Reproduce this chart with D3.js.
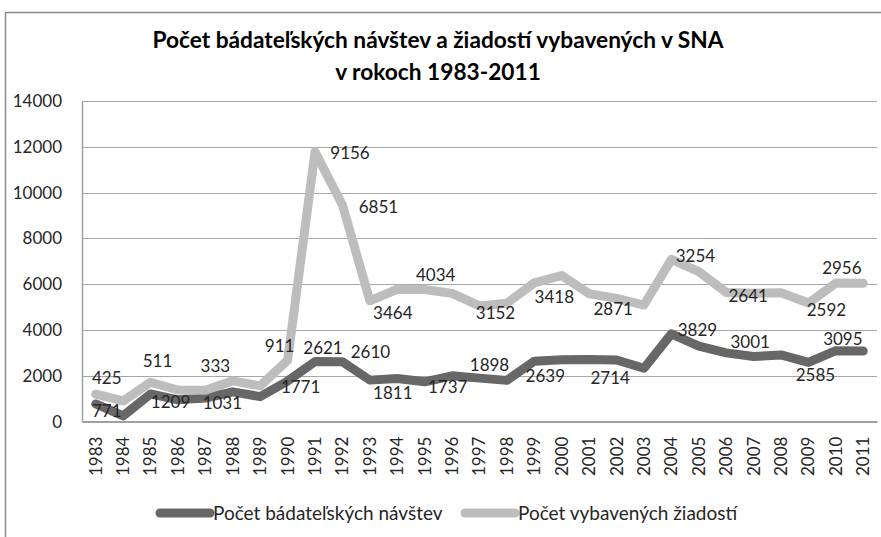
<!DOCTYPE html>
<html>
<head>
<meta charset="utf-8">
<script src="https://cdn.jsdelivr.net/npm/d3@7"></script>
<style>
    body { margin: 0; background: #fff; }
    svg { display: block; }
    text { font-family: Lato, sans-serif; fill: #262626; }
</style>
</head>
<body>
<div class="container"></div>
<script>
// data (stacked line chart, values per year)
const years = [1983, 1984, 1985, 1986, 1987, 1988, 1989, 1990, 1991, 1992, 1993, 1994, 1995, 1996, 1997,
    1998, 1999, 2000, 2001, 2002, 2003, 2004, 2005, 2006, 2007, 2008, 2009, 2010, 2011];
const visits = [771, 250, 1209, 950, 1031, 1300, 1090, 1771, 2621, 2610, 1811, 1880, 1737, 2000, 1898,
    1800, 2639, 2700, 2714, 2690, 2330, 3829, 3300, 3001, 2840, 2910, 2585, 3095, 3080];
const requests = [425, 650, 511, 430, 333, 480, 470, 911, 9156, 6851, 3464, 3900, 4034, 3600, 3152,
    3370, 3418, 3680, 2871, 2690, 2760, 3254, 3250, 2641, 2770, 2720, 2592, 2956, 2960];
const labelYears = [1983, 1985, 1987, 1990, 1991, 1992, 1993, 1995, 1997, 1999, 2001, 2004, 2006, 2009, 2010];
const yTicks = [0, 2000, 4000, 6000, 8000, 10000, 12000, 14000];
const seriesKeys = ["visits", "requests"];
const seriesNames = ["Počet bádateľských návštev", "Počet vybavených žiadostí"];
const titleLines = ["Počet bádateľských návštev a žiadostí vybavených v SNA", "v rokoch 1983-2011"];

var chart_utility = {
    config: {
        width: 881,
        height: 537,
        plot: { left: 82, right: 877, top: 101, bottom: 421.6 },
        colors: ["#676767", "#bdbdbd"],
        lineWidth: 9,
        fontSize: 17
    },

    // where Excel put each data label, relative to its point (dx, dy)
    labelOffsets: {
        visits: [[11, 7], [20, 8], [17, 5], [13, 6], [8, -14], [28, -10], [23, 13], [23, 5], [10, -13],
            [11, 15], [21, 19], [26, -4], [24, -11], [7, 13], [7, -12]],
        requests: [[11, -16], [7, -21], [10, -24], [-8, -14], [35, 1], [36, 2], [23, 12], [11, -14], [16, 7],
            [20, 14], [24, 15], [24, -3], [22, 4], [18, 7], [6, -15]]
    },

    x: d3.scaleBand(),
    y: d3.scaleLinear()
};

const cfg = chart_utility.config;
const p = cfg.plot;

const table = years.map((year, i) => ({ year: year, visits: visits[i], requests: requests[i] }));
const stacked = d3.stack().keys(seriesKeys)(table);

const x = chart_utility.x.domain(years).range([p.left, p.right]);
const y = chart_utility.y.domain([0, 14000]).range([p.bottom, p.top]);
const cx = (year) => x(year) + x.bandwidth() / 2;

const svg = d3.select(".container")
    .append("svg")
    .attr("width", cfg.width)
    .attr("height", cfg.height);

// chart frame
svg.append("rect")
    .attr("x", 5.5).attr("y", 12.5)
    .attr("width", 900).attr("height", 600)
    .attr("fill", "none")
    .attr("stroke", "#8a8a8a")
    .attr("stroke-width", 1.5);

// title
svg.append("text")
    .attr("x", 438).attr("y", 48)
    .attr("text-anchor", "middle")
    .style("font-weight", "bold")
    .style("font-size", "22.7px")
    .style("fill", "#000")
    .selectAll("tspan")
    .data(titleLines)
    .join("tspan")
    .attr("x", 438)
    .attr("dy", (d, i) => i === 0 ? 0 : 32)
    .text((d) => d);

// gridlines
svg.append("g")
    .selectAll("line")
    .data(yTicks.slice(1))
    .join("line")
    .attr("x1", p.left).attr("x2", p.right)
    .attr("y1", (d) => Math.round(y(d)) + 0.5)
    .attr("y2", (d) => Math.round(y(d)) + 0.5)
    .attr("stroke", "#a8a8a8")
    .attr("stroke-width", 1);

// y axis
const yAxis = svg.append("g")
    .attr("transform", `translate(${p.left},0)`)
    .call(d3.axisLeft(y).tickValues(yTicks).tickSize(0).tickPadding(20).tickFormat(d3.format("d")));
yAxis.select(".domain").attr("stroke", "#a0a0a0").attr("stroke-width", 1.5);
yAxis.selectAll("text").style("font-size", cfg.fontSize + "px").style("font-family", "Lato, sans-serif");

// x axis
const xAxis = svg.append("g")
    .attr("transform", `translate(0,${p.bottom})`)
    .call(d3.axisBottom(x).tickSize(0).tickPadding(0));
xAxis.select(".domain").attr("stroke", "#a0a0a0").attr("stroke-width", 2);
xAxis.selectAll("text")
    .style("font-size", cfg.fontSize + "px")
    .style("font-family", "Lato, sans-serif")
    .attr("text-anchor", "end")
    .attr("transform", "translate(0,15) rotate(-90)")
    .attr("x", 0).attr("y", 0).attr("dy", "0.35em");

// stacked lines
const line = d3.line()
    .x((d) => cx(d.data.year))
    .y((d) => y(d[1]));

svg.append("g")
    .selectAll("path")
    .data(stacked)
    .join("path")
    .attr("d", line)
    .attr("fill", "none")
    .attr("stroke", (d, i) => cfg.colors[i])
    .attr("stroke-width", cfg.lineWidth)
    .attr("stroke-linejoin", "round")
    .attr("stroke-linecap", "round");

// data labels
stacked.forEach((layer, s) => {
    const key = seriesKeys[s];
    svg.append("g")
        .selectAll("text")
        .data(labelYears)
        .join("text")
        .attr("x", (year, i) => cx(year) + chart_utility.labelOffsets[key][i][0])
        .attr("y", (year, i) => y(layer[years.indexOf(year)][1]) + chart_utility.labelOffsets[key][i][1])
        .attr("dy", "0.35em")
        .attr("text-anchor", "middle")
        .style("font-size", cfg.fontSize + "px")
        .text((year) => table[years.indexOf(year)][key]);
});

// legend
const legend = svg.append("g")
    .selectAll("g")
    .data(seriesNames)
    .join("g")
    .attr("transform", (d, i) => `translate(${[160, 465][i]},513)`);
legend.append("line")
    .attr("x1", 0).attr("x2", 50)
    .attr("stroke", (d, i) => cfg.colors[i])
    .attr("stroke-width", cfg.lineWidth)
    .attr("stroke-linecap", "round");
legend.append("text")
    .attr("x", 53).attr("dy", "0.35em")
    .style("font-size", "19px")
    .text((d) => d);
</script>
</body>
</html>
